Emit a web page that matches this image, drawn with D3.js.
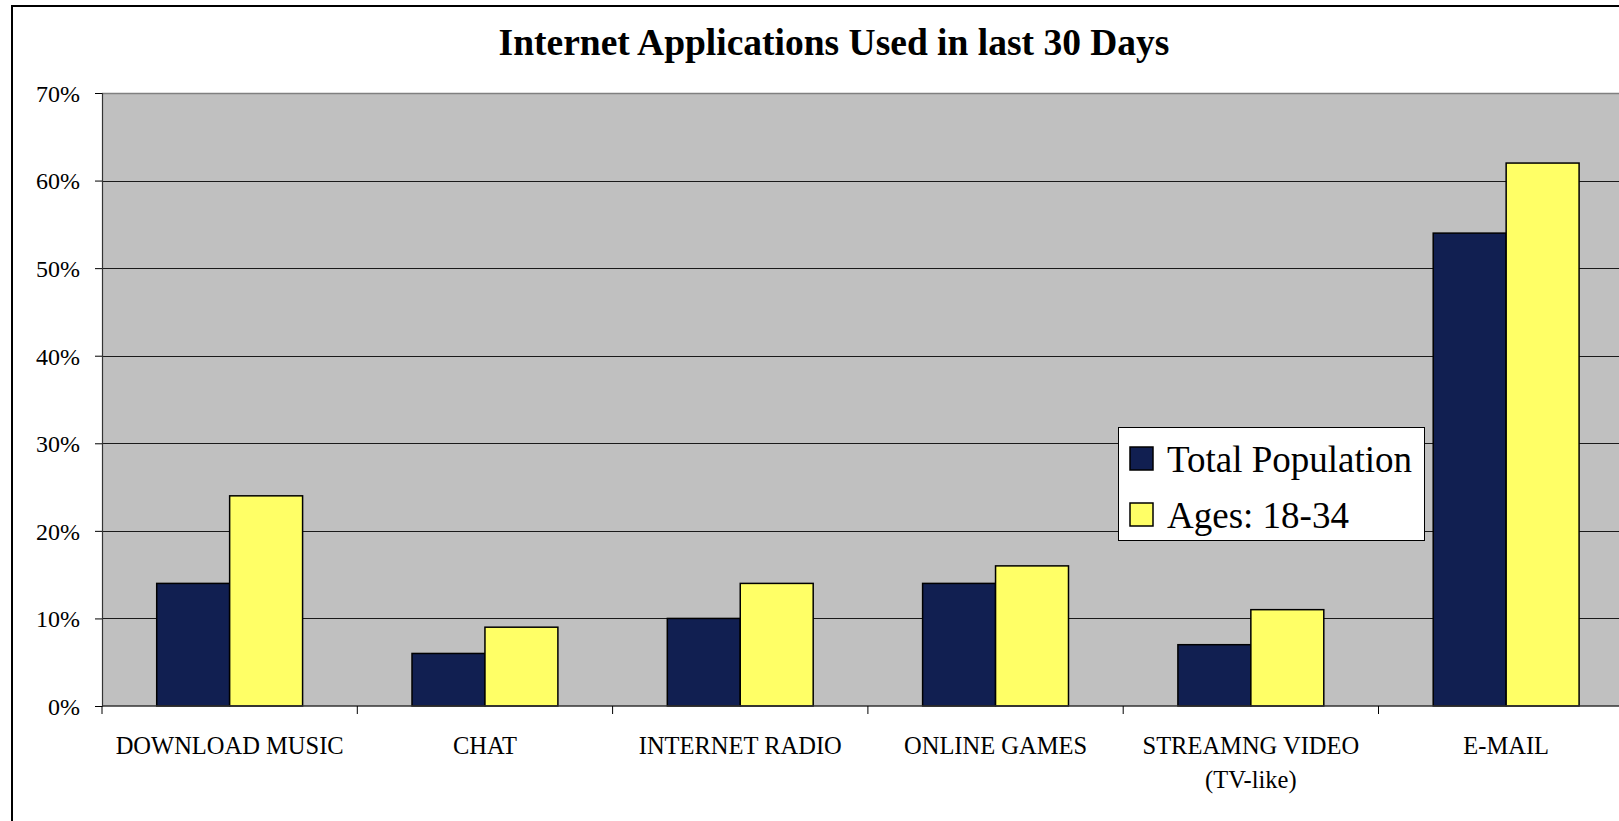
<!DOCTYPE html>
<html>
<head>
<meta charset="utf-8">
<script src="https://cdn.jsdelivr.net/npm/d3@7"></script>
<style>
  html, body { margin: 0; padding: 0; background: #fff; overflow: hidden; }
  text { font-family: 'Liberation Serif', 'Times New Roman', serif; fill: #000; }
</style>
</head>
<body>
<div id="chart"></div>
<script>
// data
const categories = ['DOWNLOAD MUSIC', 'CHAT', 'INTERNET RADIO', 'ONLINE GAMES', 'STREAMNG VIDEO\n(TV-like)', 'E-MAIL'];
const seriesNames = ['Total Population', 'Ages: 18-34'];
const totalPopulation = [0.14, 0.06, 0.10, 0.14, 0.07, 0.54];
const ages18to34 = [0.24, 0.09, 0.14, 0.16, 0.11, 0.62];
const yTicks = [0, 0.1, 0.2, 0.3, 0.4, 0.5, 0.6, 0.7];
const chartTitle = 'Internet Applications Used in last 30 Days';

const seriesValues = [totalPopulation, ages18to34];
const colors = ['#111f51', '#ffff66'];

//
// Set-up
//
const cfg = {
  width: 1619,
  height: 821,
  plotLeft: 102,
  plotTop: 93,
  plotBottom: 706,
  bandWidth: 255.3
};

const svg = d3.select('#chart')
  .append('svg')
    .attr('width', cfg.width)
    .attr('height', cfg.height);

// outer chart border (runs off the right and bottom edge like the source)
svg.append('rect')
  .attr('x', 12)
  .attr('y', 6)
  .attr('width', cfg.width + 100)
  .attr('height', cfg.height + 100)
  .style('fill', '#fff')
  .style('stroke', '#000')
  .style('stroke-width', 2);

//
// Scales
//
const xScale = d3.scaleBand()
  .domain(categories)
  .range([cfg.plotLeft, cfg.plotLeft + cfg.bandWidth * categories.length])
  .paddingInner(0)
  .paddingOuter(0);

const xInner = d3.scaleBand()
  .domain(seriesNames)
  .range([0, xScale.bandwidth()])
  .paddingInner(0)
  .paddingOuter(0.75);

const yScale = d3.scaleLinear()
  .domain([0, 0.7])
  .range([cfg.plotBottom, cfg.plotTop]);

const plotRight = xScale.range()[1];

// plot background
svg.append('rect')
  .attr('x', cfg.plotLeft)
  .attr('y', yScale(0.7))
  .attr('width', plotRight - cfg.plotLeft)
  .attr('height', yScale(0) - yScale(0.7))
  .style('fill', '#c0c0c0');

// gridlines
svg.append('g')
  .selectAll('line')
  .data(yTicks.filter(d => d > 0 && d < 0.7))
  .enter().append('line')
    .attr('x1', cfg.plotLeft)
    .attr('x2', plotRight)
    .attr('y1', d => Math.round(yScale(d)) + 0.5)
    .attr('y2', d => Math.round(yScale(d)) + 0.5)
    .style('stroke', '#1a1a1a')
    .style('stroke-width', 1);

// top border of plot area
svg.append('line')
  .attr('x1', cfg.plotLeft)
  .attr('x2', plotRight)
  .attr('y1', Math.round(yScale(0.7)) + 0.5)
  .attr('y2', Math.round(yScale(0.7)) + 0.5)
  .style('stroke', '#808080')
  .style('stroke-width', 1.5);

//
// Bars
//
const groups = svg.append('g')
  .selectAll('g')
  .data(categories)
  .enter().append('g')
    .attr('transform', d => `translate(${xScale(d)}, 0)`);

groups.selectAll('rect')
  .data((d, i) => seriesNames.map((s, j) => ({ series: s, j, value: seriesValues[j][i] })))
  .enter().append('rect')
    .attr('x', d => xInner(d.series))
    .attr('y', d => yScale(d.value))
    .attr('width', xInner.bandwidth())
    .attr('height', d => yScale(0) - yScale(d.value))
    .style('fill', d => colors[d.j])
    .style('stroke', '#000')
    .style('stroke-width', 1.5);

//
// Axes
//
const yAxis = d3.axisLeft(yScale)
  .tickValues(yTicks)
  .tickSize(7)
  .tickPadding(15)
  .tickFormat(d3.format('.0%'));

const yAxisG = svg.append('g')
  .attr('transform', `translate(${cfg.plotLeft}, 0)`)
  .call(yAxis);

yAxisG.select('.domain').style('stroke', '#333').style('stroke-width', 1.2);
yAxisG.selectAll('.tick line').style('stroke', '#000');
yAxisG.selectAll('.tick text')
  .style('font-size', '24px')
  .style('font-family', "'Liberation Serif', 'Times New Roman', serif")
  .attr('dy', '0.35em');

// x axis line
svg.append('line')
  .attr('x1', cfg.plotLeft)
  .attr('x2', plotRight)
  .attr('y1', yScale(0))
  .attr('y2', yScale(0))
  .style('stroke', '#333')
  .style('stroke-width', 1.5);

// x ticks at category boundaries
svg.append('g')
  .selectAll('line')
  .data(d3.range(categories.length + 1))
  .enter().append('line')
    .attr('x1', i => cfg.plotLeft + i * xScale.step())
    .attr('x2', i => cfg.plotLeft + i * xScale.step())
    .attr('y1', yScale(0))
    .attr('y2', yScale(0) + 8)
    .style('stroke', '#000')
    .style('stroke-width', 1);

// category labels
const catLabels = svg.append('g')
  .selectAll('text')
  .data(categories)
  .enter().append('text')
    .attr('text-anchor', 'middle')
    .attr('x', d => xScale(d) + xScale.bandwidth() / 2)
    .attr('y', yScale(0) + 48)
    .style('font-size', '24.5px');

catLabels.selectAll('tspan')
  .data(d => d.split('\n'))
  .enter().append('tspan')
    .attr('x', function () { return d3.select(this.parentNode).attr('x'); })
    .attr('dy', (d, i) => i === 0 ? 0 : 34)
    .text(d => d);

//
// Title
//
svg.append('text')
  .attr('x', 834)
  .attr('y', 55)
  .attr('text-anchor', 'middle')
  .style('font-size', '37.5px')
  .style('font-weight', 700)
  .text(chartTitle);

//
// Legend
//
const legend = svg.append('g')
  .attr('transform', `translate(${1118}, ${427})`);

legend.append('rect')
  .attr('x', 0.5)
  .attr('y', 0.5)
  .attr('width', 306)
  .attr('height', 113)
  .style('fill', '#fff')
  .style('stroke', '#000')
  .style('stroke-width', 1);

const legendItems = legend.selectAll('.legendItem')
  .data(seriesNames)
  .enter().append('g')
    .attr('class', 'legendItem')
    .attr('transform', (d, i) => `translate(${12}, ${20 + i * 56})`);

legendItems.append('rect')
  .attr('width', 23)
  .attr('height', 23)
  .style('fill', (d, i) => colors[i])
  .style('stroke', '#000')
  .style('stroke-width', 1.5);

legendItems.append('text')
  .attr('x', 37)
  .attr('y', 25)
  .style('font-size', '37px')
  .text(d => d);
</script>
</body>
</html>
